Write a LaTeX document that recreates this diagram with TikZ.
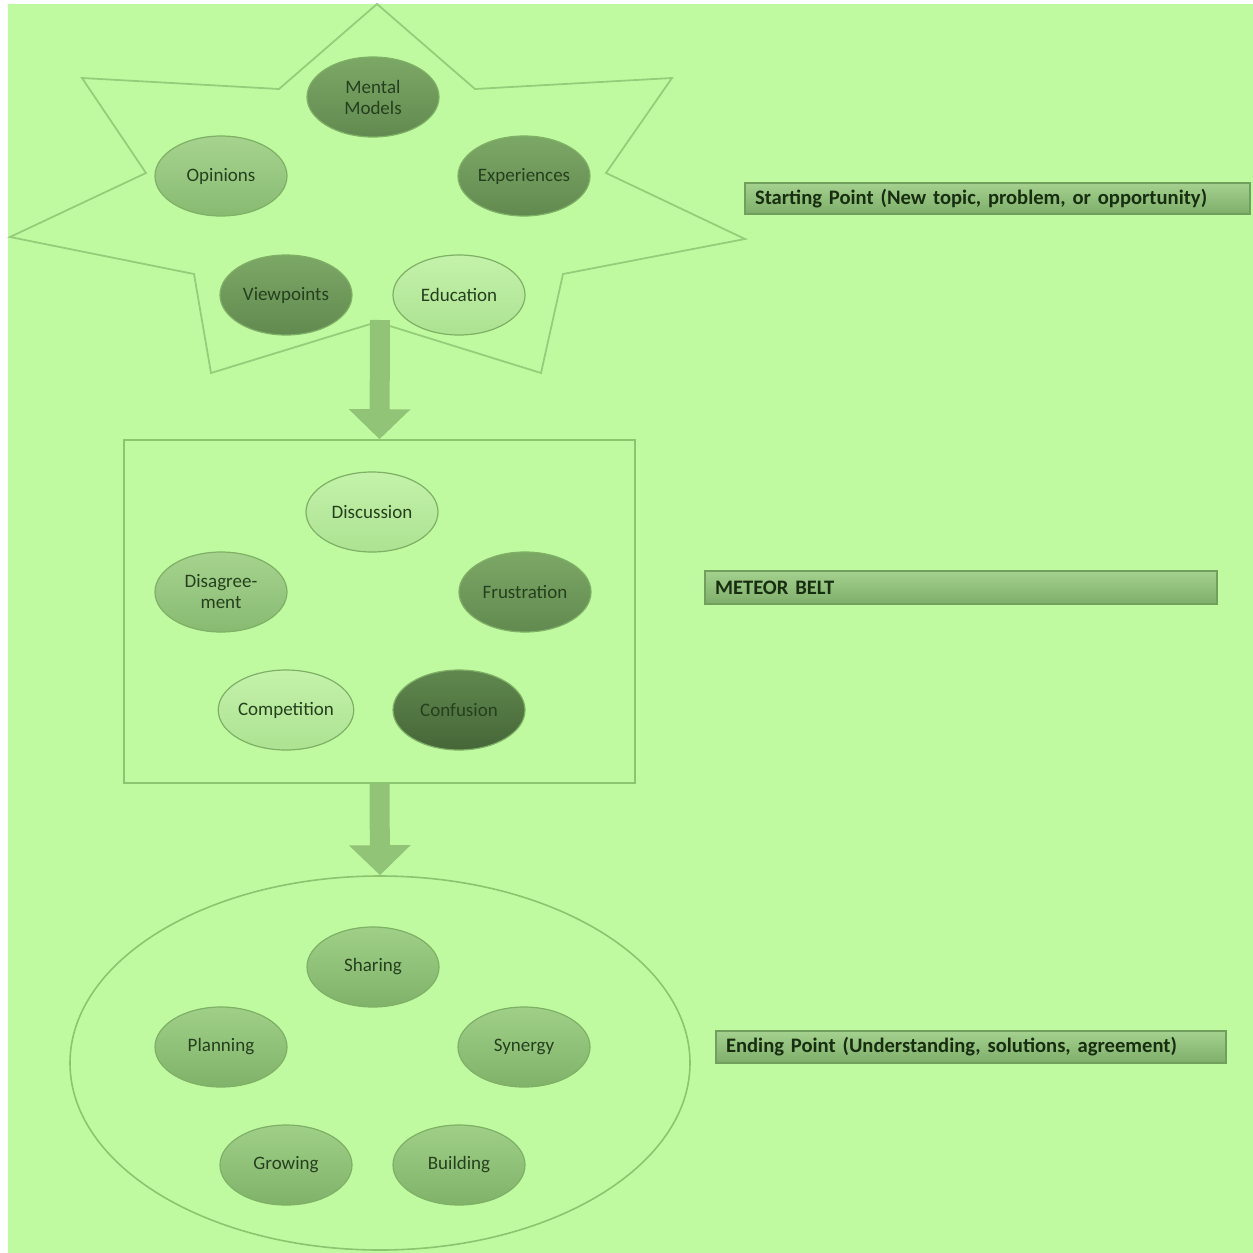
\documentclass[tikz,border=0pt]{standalone}
\usepackage{fontspec}
\setmainfont{Carlito}
\usetikzlibrary{shapes.geometric,arrows.meta}
\definecolor{bgc}{RGB}{192,250,160}
\definecolor{linec}{RGB}{140,196,112}
\definecolor{txtc}{RGB}{38,64,30}
\definecolor{lblc}{RGB}{24,46,16}
\definecolor{arrowc}{RGB}{146,196,120}
\tikzset{
  bub/.style={ellipse, minimum width=66pt, minimum height=40pt, inner sep=0pt,
    draw=linec!90!black, line width=0.6pt, text=txtc, font=\fontsize{9.5}{10.5}\selectfont, align=center},
  light/.style={bub, top color={rgb,255:red,196;green,242;blue,170}, bottom color={rgb,255:red,172;green,226;blue,146}},
  medium/.style={bub, top color={rgb,255:red,166;green,212;blue,142}, bottom color={rgb,255:red,136;green,186;blue,114}},
  dark/.style={bub, top color={rgb,255:red,124;green,168;blue,102}, bottom color={rgb,255:red,98;green,138;blue,80}},
  vdark/.style={bub, top color={rgb,255:red,96;green,136;blue,78}, bottom color={rgb,255:red,70;green,102;blue,56}},
  lower/.style={bub, top color={rgb,255:red,160;green,208;blue,136}, bottom color={rgb,255:red,128;green,178;blue,106}},
  frame/.style={draw=linec, line width=0.8pt},
  bigarrow/.style={draw=arrowc, line width=10pt, -{Triangle[length=15pt,width=30pt]}},
  lbl/.style={draw={rgb,255:red,112;green,160;blue,92}, line width=0.6pt,
    top color={rgb,255:red,164;green,210;blue,142}, bottom color={rgb,255:red,126;green,174;blue,106},
    text=lblc, font=\bfseries\fontsize{10.3}{11}\selectfont, align=left, inner xsep=5pt, inner ysep=0pt, anchor=center}
}
\begin{document}
\begin{tikzpicture}[x=0.5pt, y=-0.5pt]
\useasboundingbox (0,0) rectangle (1253,1253);
\fill[white] (0,0) rectangle (1253,1253);
\fill[bgc] (8,4) rectangle (1253,1253);

% star
\draw[frame, line width=0.9pt, draw={rgb,255:red,150;green,205;blue,122}]
  (377,4) -- (475,89) -- (672,78) -- (606,173) -- (745,239) -- (563,274) -- (541,373)
  -- (377,322) -- (211,373) -- (194,274) -- (10,237) -- (146,173) -- (82,78) -- (279,89) -- cycle;
\coordinate (starbottom) at (380,320);

\node[dark]  (mental) at (373,97)  {Mental\\Models};
\node[medium] (opinions) at (221,176) {Opinions};
\node[dark]  (experiences) at (524,176) {Experiences};
\node[dark]  (viewpoints) at (286,295) {Viewpoints};
\node[light] (education) at (459,295) {Education};

% meteor belt box
\node[frame, minimum width=255.5pt, minimum height=171.5pt, inner sep=0pt] (meteor) at (379.5,611.5) {};
\node[light]  (discussion) at (372,512) {Discussion};
\node[medium] (disagreement) at (221,592) {Disagree-\\ment};
\node[dark]   (frustration) at (525,592) {Frustration};
\node[light]  (competition) at (286,710) {Competition};
\node[vdark]  (confusion) at (459,710) {Confusion};

% ending ellipse
\node[ellipse, frame, minimum width=310pt, minimum height=187pt, inner sep=0pt] (ending) at (380,1063) {};
\node[lower] (sharing) at (373,967) {Sharing};
\node[lower] (planning) at (221,1047) {Planning};
\node[lower] (synergy) at (524,1047) {Synergy};
\node[lower] (growing) at (286,1165) {Growing};
\node[lower] (building) at (459,1165) {Building};

% arrows
\draw[bigarrow] (starbottom) -- (meteor.north);
\draw[bigarrow] (meteor.south) -- (ending.north);

% labels
\node[lbl, minimum width=252.5pt, text width=242.5pt, minimum height=15.5pt] (startlbl) at (997.5,198.5) {Starting Point (New topic, problem, or opportunity)};
\node[lbl, minimum width=256pt, text width=246pt, minimum height=16.5pt] (meteorlbl) at (961,587.5) {METEOR BELT};
\node[lbl, minimum width=255pt, text width=245pt, minimum height=16pt] (endlbl) at (971,1047) {Ending Point (Understanding, solutions, agreement)};
\end{tikzpicture}
\end{document}
